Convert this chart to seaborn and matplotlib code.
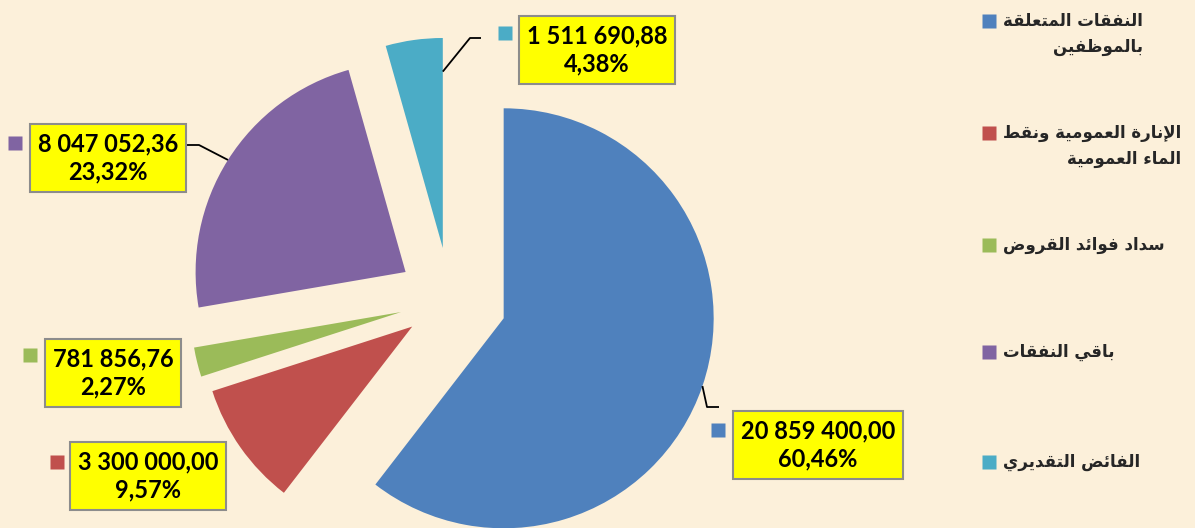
import matplotlib
matplotlib.use("Agg")
import matplotlib.pyplot as plt
import seaborn as sns
import numpy as np

# data
categories = [
    "النفقات المتعلقة\nبالموظفين",
    "الإنارة العمومية ونقط\nالماء العمومية",
    "سداد فوائد القروض",
    "باقي النفقات",
    "الفائض التقديري",
]
amounts = [20859400.00, 3300000.00, 781856.76, 8047052.36, 1511690.88]
amount_labels = ["20 859 400,00", "3 300 000,00", "781 856,76", "8 047 052,36", "1 511 690,88"]
percent_labels = ["60,46%", "9,57%", "2,27%", "23,32%", "4,38%"]
colors = sns.color_palette(["#4F81BD", "#C0504D", "#9BBB59", "#8064A2", "#4BACC6"])

# --- tiny Arabic shaper (matplotlib has no complex text layout) ---
AR_FORMS = {
    'ء': (0xFE80, 1), 'إ': (0xFE87, 2), 'ئ': (0xFE89, 4), 'ا': (0xFE8D, 2),
    'ب': (0xFE8F, 4), 'ة': (0xFE93, 2), 'ت': (0xFE95, 4), 'د': (0xFEA9, 2),
    'ر': (0xFEAD, 2), 'س': (0xFEB1, 4), 'ض': (0xFEBD, 4), 'ط': (0xFEC1, 4),
    'ظ': (0xFEC5, 4), 'ع': (0xFEC9, 4), 'ف': (0xFED1, 4), 'ق': (0xFED5, 4),
    'ل': (0xFEDD, 4), 'م': (0xFEE1, 4), 'ن': (0xFEE5, 4), 'و': (0xFEED, 2),
    'ي': (0xFEF1, 4),
}
LAM_ALEF = {'ا': 0xFEFB, 'إ': 0xFEF9}


def shape_line(text):
    units = []
    i = 0
    while i < len(text):
        c = text[i]
        if c == 'ل' and i + 1 < len(text) and text[i + 1] in LAM_ALEF:
            units.append(('LA', text[i + 1]))
            i += 2
        else:
            units.append((c, None))
            i += 1
    out = []
    for k, (c, alef) in enumerate(units):
        prev = units[k - 1][0] if k > 0 else None
        nxt = units[k + 1][0] if k + 1 < len(units) else None
        joins_prev = prev in AR_FORMS and AR_FORMS[prev][1] == 4
        if c == 'LA':
            out.append(chr(LAM_ALEF[alef] + (1 if joins_prev else 0)))
            continue
        if c not in AR_FORMS:
            out.append(c)
            continue
        base, n = AR_FORMS[c]
        nxt_ok = nxt == 'LA' or (nxt in AR_FORMS and AR_FORMS[nxt][1] >= 2)
        jn = n == 4 and nxt_ok
        jp = joins_prev and n >= 2
        if jp and jn:
            out.append(chr(base + 3))
        elif jn:
            out.append(chr(base + 2))
        elif jp:
            out.append(chr(base + 1))
        else:
            out.append(chr(base))
    return ''.join(reversed(out))


def shape_ar(text):
    return "\n".join(shape_line(t) for t in text.split("\n"))


sns.set_theme(style="white")
plt.rcParams['font.family'] = ['Lato', 'DejaVu Sans']

W, H = 1195, 528
BG = "#FCF0DA"
CX, CY, R = 450, 300, 210  # pie centre / radius in pixels


def px(x, y):
    return ((x - CX) / R, (CY - y) / R)


fig = plt.figure(figsize=(W / 100, H / 100), dpi=100, facecolor=BG)
ax = fig.add_axes([0, 0, 1, 1])
ax.set_facecolor(BG)

wedges, _ = ax.pie(amounts, colors=colors, startangle=90, counterclock=False,
                   explode=[0.27, 0.22, 0.24, 0.25, 0.25], radius=1,
                   wedgeprops=dict(linewidth=0))
ax.set_xlim(px(0, 0)[0], px(W, 0)[0])
ax.set_ylim(px(0, H)[1], px(0, 0)[1])
ax.set_aspect('equal', adjustable='datalim')
ax.axis('off')

# data label boxes (centre of box, legend key position)
box_pos = [(818, 445), (148, 476), (113, 373), (108, 158), (597, 50)]
key_pos = [(718, 430), (57, 462), (30, 355), (15, 143), (505, 33)]
for i in range(len(amounts)):
    bx, by = px(*box_pos[i])
    ax.text(bx, by, amount_labels[i] + "\n" + percent_labels[i], ha='center', va='center',
            fontsize=17, fontweight='bold', color='black', linespacing=1.3,
            bbox=dict(boxstyle='square,pad=0.33', fc='#FFFF00', ec='#8C8C8C', lw=1.5))
    kx, ky = px(*key_pos[i])
    ax.plot(kx, ky, marker='s', ms=10, color=colors[i], mec='none')


# leader lines
def wedge_point(w, frac=1.0, ang=None):
    a = np.deg2rad((w.theta1 + w.theta2) / 2 if ang is None else ang)
    return (w.center[0] + frac * w.r * np.cos(a), w.center[1] + frac * w.r * np.sin(a))


leaders = [
    (wedge_point(wedges[0]), [(707, 407), (719, 407)]),
    (wedge_point(wedges[3]), [(199, 145), (187, 145)]),
    (wedge_point(wedges[4], 0.84, wedges[4].theta1), [(470, 38), (481, 38)]),
]
for start, pts in leaders:
    xs = [start[0]] + [px(*p)[0] for p in pts]
    ys = [start[1]] + [px(*p)[1] for p in pts]
    ax.plot(xs, ys, color='black', lw=1.3, solid_capstyle='butt')

# legend on the right
leg_y = [21, 133, 245, 352, 462]
for i, lab in enumerate(categories):
    kx, ky = px(989, leg_y[i])
    ax.plot(kx, ky, marker='s', ms=10.5, color=colors[i], mec='none')
    tx, ty = px(1003, leg_y[i] - 9)
    ax.text(tx, ty, shape_ar(lab), ha='left', va='top', multialignment='right',
            fontsize=12, fontweight='bold', family=['DejaVu Sans'], linespacing=1.55)

fig.savefig("out.png", dpi=100, facecolor=BG)
